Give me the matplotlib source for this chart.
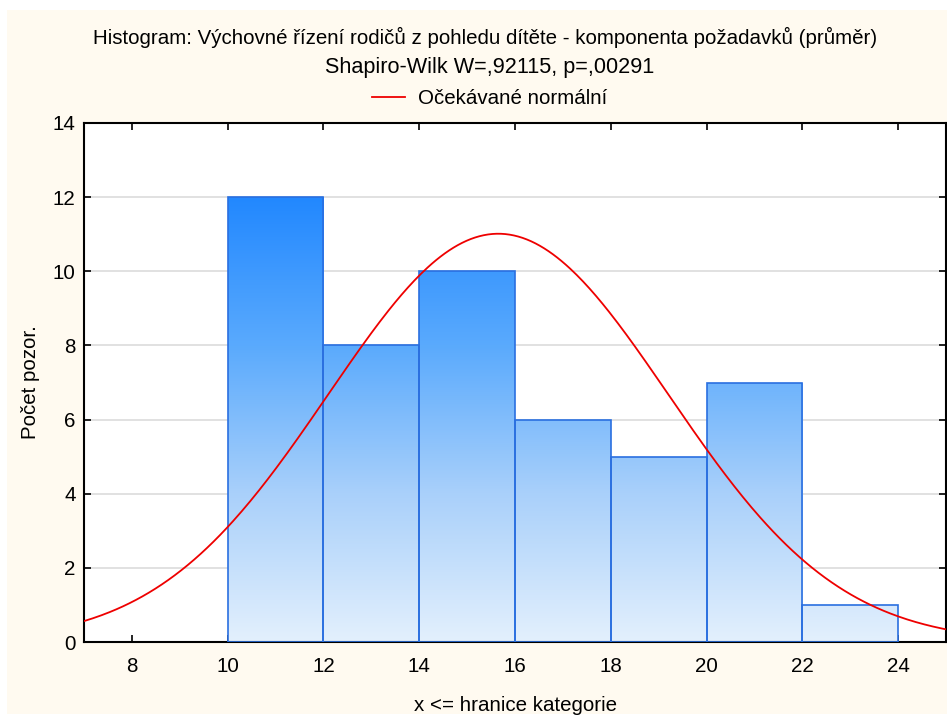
import numpy as np
import matplotlib
matplotlib.use("Agg")
import matplotlib.pyplot as plt
from matplotlib.colors import LinearSegmentedColormap
from matplotlib.patches import Rectangle
from matplotlib.lines import Line2D

plt.rcParams['font.family'] = ['Liberation Sans', 'DejaVu Sans']

# histogram data
bin_edges = [10, 12, 14, 16, 18, 20, 22, 24]
counts = [12, 8, 10, 6, 5, 7, 1]

# fitted normal curve parameters (expected counts per bin of width 2)
n_obs = 49
mean_val = 15.65
sd_val = 3.55
bin_width = 2

x_ticks = [8, 10, 12, 14, 16, 18, 20, 22, 24]
y_ticks = [0, 2, 4, 6, 8, 10, 12, 14]

title = "Histogram: Výchovné řízení rodičů z pohledu dítěte - komponenta požadavků (průměr)"
subtitle = "Shapiro-Wilk W=,92115, p=,00291"
legend_label = "Očekávané normální"

bg = "#FFFAF0"
fs = 14.8
fig = plt.figure(figsize=(9.47, 7.15), dpi=100, facecolor="white")
# cream panel with a thin white margin at top and left
fig.patches.append(Rectangle((7 / 947, 1 / 715), 1, 1 - 11 / 715, transform=fig.transFigure,
                             facecolor=bg, edgecolor="none", zorder=-10))

ax = fig.add_axes([0.0887, 0.102, 0.9103, 0.726])
ax.set_facecolor("white")

ax.set_xlim(7, 25)
ax.set_ylim(0, 14)

# gradient shared across bars by absolute height
cmap = LinearSegmentedColormap.from_list("blues", ["#E3F0FD", "#A9D0FA", "#5AAAFD", "#2288FF"])
grad = np.linspace(0, 1, 256).reshape(-1, 1)

ax.yaxis.grid(True, color="#DCDCDC", linewidth=1.2, zorder=0)
ax.set_axisbelow(True)

for left, right, c in zip(bin_edges[:-1], bin_edges[1:], counts):
    rect = Rectangle((left, 0), right - left, c, facecolor="none",
                     edgecolor="#2A6FE0", linewidth=1.2, zorder=3)
    ax.add_patch(rect)
    im = ax.imshow(grad, cmap=cmap, origin="lower", aspect="auto",
                   extent=(left, right, 0, 12), vmin=0, vmax=1, zorder=2)
    im.set_clip_path(Rectangle((left, 0), right - left, c, transform=ax.transData))

xs = np.linspace(7, 25, 400)
ys = n_obs * bin_width / (sd_val * np.sqrt(2 * np.pi)) * np.exp(-0.5 * ((xs - mean_val) / sd_val) ** 2)
ax.plot(xs, ys, color="#EE0000", linewidth=1.3, zorder=4)

ax.set_xticks(x_ticks)
ax.set_yticks(y_ticks)
ax.tick_params(direction="in", length=5, width=1.2, labelsize=fs, top=True, right=True,
               colors="black")
ax.tick_params(axis="x", pad=11)
ax.tick_params(axis="y", pad=6)
for s in ax.spines.values():
    s.set_linewidth(1.5)

ax.set_xlabel("x <= hranice kategorie", fontsize=fs, labelpad=14)
ax.set_ylabel("Počet pozor.", fontsize=fs, labelpad=9)

fig.text(0.512, 0.947, title, ha="center", va="center", fontsize=fs)
fig.text(0.517, 0.906, subtitle, ha="center", va="center", fontsize=15.6)
fig.legend(handles=[Line2D([], [], color="#EE0000", linewidth=1.3)], labels=[legend_label],
           loc="center", bbox_to_anchor=(0.517, 0.862), frameon=False, fontsize=fs,
           handlelength=1.6, handletextpad=0.6)

fig.savefig("out.png", dpi=100, facecolor="white")
